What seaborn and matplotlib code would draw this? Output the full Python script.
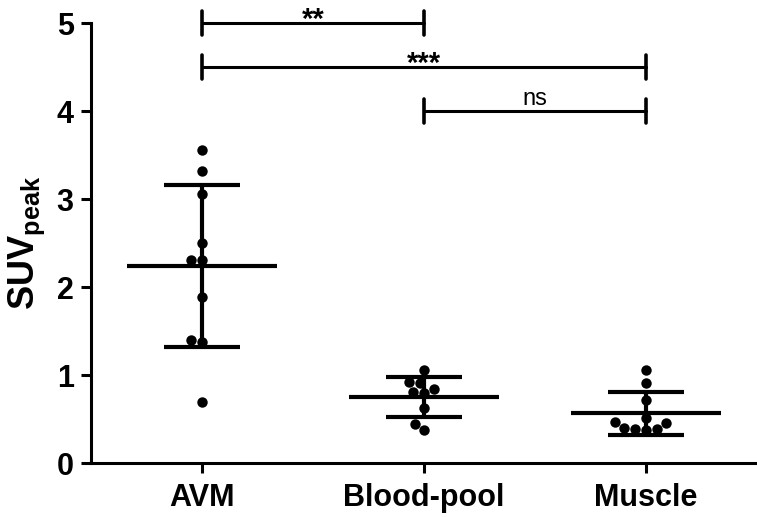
import numpy as np
import pandas as pd
import seaborn as sns
import matplotlib.pyplot as plt

groups = ["AVM", "Blood-pool", "Muscle"]
avm = [3.56, 3.32, 3.06, 2.50, 2.31, 2.31, 1.89, 1.40, 1.38, 0.69]
blood_pool = [1.06, 0.92, 0.91, 0.84, 0.81, 0.80, 0.62, 0.44, 0.38]
muscle = [1.06, 0.91, 0.72, 0.51, 0.47, 0.45, 0.40, 0.39, 0.39, 0.38]

# significance brackets: (left group, right group, height, label)
brackets = [(0, 1, 5.0, "**"), (0, 2, 4.5, "***"), (1, 2, 4.0, "ns")]

# long format table for seaborn
df = pd.DataFrame({
    "group": ["AVM"] * len(avm) + ["Blood-pool"] * len(blood_pool) + ["Muscle"] * len(muscle),
    "suv": avm + blood_pool + muscle,
})

sns.set_style("ticks")
plt.rcParams['font.family'] = ['Liberation Sans', 'DejaVu Sans']
plt.rcParams['mathtext.fontset'] = 'custom'
plt.rcParams['mathtext.rm'] = 'Liberation Sans'
plt.rcParams['mathtext.bf'] = 'Liberation Sans:bold'
for key in ['text.color', 'axes.labelcolor', 'xtick.color', 'ytick.color']:
    plt.rcParams[key] = 'black'

fig = plt.figure(figsize=(7.57, 5.17), dpi=100)
ax = fig.add_axes([0.1202, 0.1044, 0.8798, 0.851])

sns.swarmplot(data=df, x="group", y="suv", order=groups, color="black", size=7.5, ax=ax)

# mean and SD bars
stats = df.groupby("group")["suv"].agg(["mean", "std"]).reindex(groups)
for i, (m, s) in enumerate(zip(stats["mean"], stats["std"])):
    ax.hlines(m, i - 0.34, i + 0.34, color="black", lw=3, zorder=1)
    ax.vlines(i, m - s, m + s, color="black", lw=3, zorder=1)
    ax.hlines([m - s, m + s], i - 0.17, i + 0.17, color="black", lw=3, zorder=1)

for a, b, h, lab in brackets:
    ax.plot([a, b], [h, h], color="black", lw=2.2, clip_on=False)
    ax.plot([a, a], [h - 0.14, h + 0.14], color="black", lw=2.6, clip_on=False)
    ax.plot([b, b], [h - 0.14, h + 0.14], color="black", lw=2.6, clip_on=False)
    if lab == "ns":
        ax.text((a + b) / 2, h + 0.07, lab, ha="center", va="baseline", fontsize=17, clip_on=False)
    else:
        ax.text((a + b) / 2, h - 0.05, lab, ha="center", va="baseline", fontsize=21,
                fontweight="bold", clip_on=False)

ax.set_xlim(-0.5, 2.5)
ax.set_ylim(0, 5)
ax.set_yticks([0, 1, 2, 3, 4, 5])
ax.set_xlabel("")
ax.set_ylabel(r"$\mathbf{SUV}_{\mathbf{peak}}$", fontsize=26)
ax.yaxis.set_label_coords(-0.066, 0.5)
ax.tick_params(axis="y", width=2.2, length=7.5, labelsize=22, color="black", pad=5)
ax.tick_params(axis="x", width=2.2, length=7.5, labelsize=22, color="black", pad=7)
for lbl in ax.get_xticklabels() + ax.get_yticklabels():
    lbl.set_fontweight("bold")

sns.despine(ax=ax)
for sp in ["left", "bottom"]:
    ax.spines[sp].set_linewidth(2.2)
    ax.spines[sp].set_color("black")

fig.savefig("out.png", dpi=100)
